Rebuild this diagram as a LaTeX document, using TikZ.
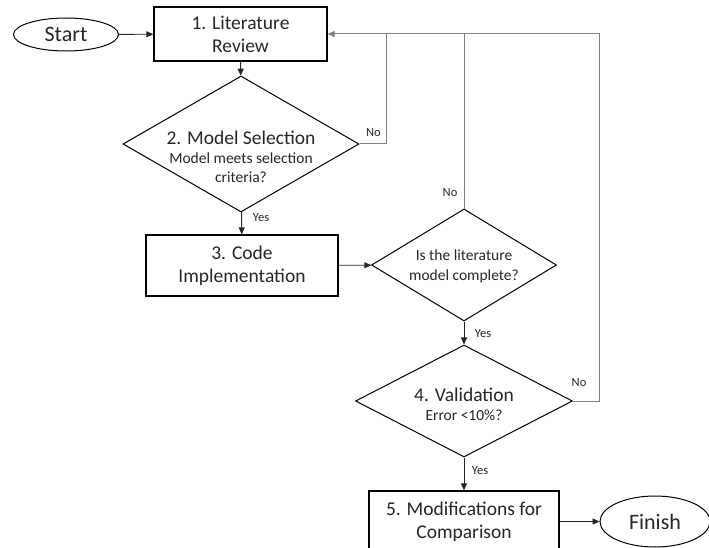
\documentclass[tikz,border=0pt]{standalone}
\usepackage{fontspec}
\setmainfont{Carlito}
\usetikzlibrary{shapes.geometric,arrows.meta}
\definecolor{txt}{HTML}{262626}
\definecolor{fbgray}{HTML}{808080}
\begin{document}
\begin{tikzpicture}[x=1pt,y=-1pt,
  box/.style={draw=black, line width=1.2pt, rectangle, inner sep=0pt, align=center, font=\fontsize{19.5}{23}\selectfont, text=txt},
  dia/.style={draw=black, line width=1pt, diamond, inner sep=0pt},
  term/.style={draw=black, line width=1pt, ellipse, inner sep=0pt, font=\fontsize{22}{26}\selectfont, text=txt},
  conn/.style={draw=black!85, line width=0.9pt, -{Triangle[length=7pt,width=6pt]}},
  fb/.style={draw=fbgray, line width=1pt},
  lbl/.style={font=\fontsize{12.5}{14}\selectfont, text=txt, inner sep=0pt},
  dtxt/.style={align=center, inner sep=0pt, text=txt, font=\fontsize{15.5}{19}\selectfont},
  big/.style={font=\fontsize{19.5}{21}\selectfont}
]
\useasboundingbox (0,0) rectangle (709,548);

% terminals and boxes
\node[term, minimum width=105, minimum height=33] (start) at (66,34.5) {Start};
\node[box, minimum width=173, minimum height=54] (b1) at (240.5,34) {1. Literature\\Review};
\node[box, minimum width=192, minimum height=61] (b3) at (242,265.5) {3. Code\\Implementation};
\node[box, minimum width=190, minimum height=61] (b5) at (464,521.5) {5. Modifications for\\Comparison};
\node[term, minimum width=110, minimum height=51] (fin) at (655,521.5) {Finish};

% decisions
\node[dia, minimum width=236, minimum height=136] (d2) at (241,144) {};
\node[dtxt] (d2t) at (241,157) {{\fontsize{19.5}{21}\selectfont 2. Model Selection}\\Model meets selection\\criteria?};
\node[dia, minimum width=185, minimum height=112] (d3) at (464,265) {};
\node[dtxt, font=\fontsize{15.5}{20}\selectfont] (d3t) at (464,266) {Is the literature\\model complete?};
\node[dia, minimum width=217, minimum height=112] (d4) at (464,401) {};
\node[dtxt] (d4t) at (464,404) {{\fontsize{19.5}{21}\selectfont 4. Validation}\\Error <10\%?};

% feedback corners
\coordinate (c1) at (386,34);
\coordinate (c2) at (464,34);
\coordinate (c3) at (599,34);

% main flow
\draw[conn] (start) -- (b1);
\draw[conn] (b1) -- (d2);
\draw[conn] (d2) -- (b3);
\draw[conn] (b3) -- (d3);
\draw[conn] (d3) -- (d4);
\draw[conn] (d4) -- (b5);
\draw[conn] (b5) -- (fin);

% feedback loops
\draw[fb] (d2.east) -| (c1);
\draw[fb] (d3.north) -- (c2);
\draw[fb, -{Triangle[length=7pt,width=6pt]}] (d4.east) -| (c3) -- (b1.east);

% labels
\node[lbl] (no1) at (373.5,133) {No};
\node[lbl] (no2) at (450,193) {No};
\node[lbl] (no3) at (579,383) {No};
\node[lbl] (yes1) at (261,218) {Yes};
\node[lbl] (yes2) at (483,334) {Yes};
\node[lbl] (yes3) at (480,471) {Yes};
\end{tikzpicture}
\end{document}
